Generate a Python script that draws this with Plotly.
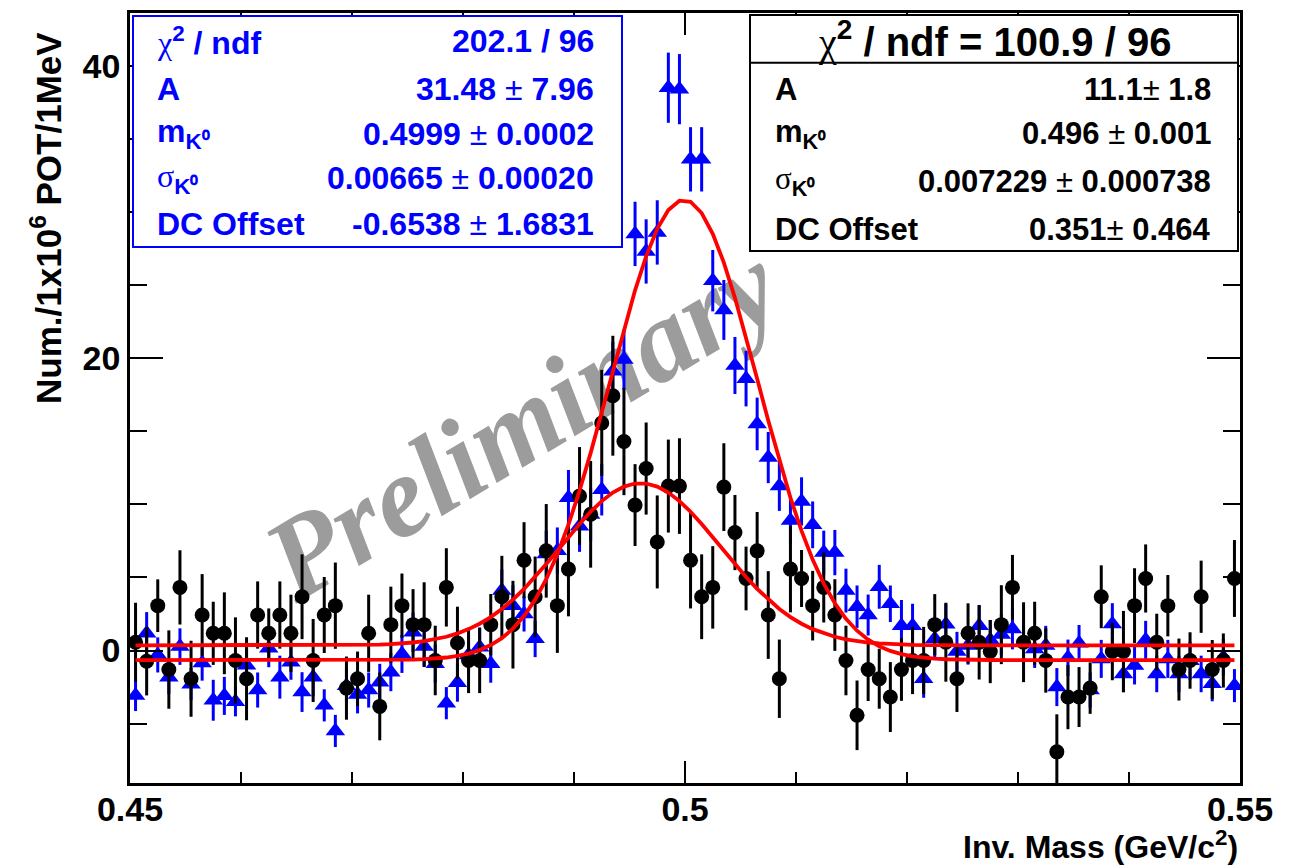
import numpy as np
import plotly.graph_objects as go

# ---- invariant-mass spectra: 100 bins of 1 MeV between 0.45 and 0.55 GeV/c^2 ----
mass_lo, bin_width, n_bins = 0.45, 0.001, 100
mass_centers = mass_lo + bin_width * (np.arange(n_bins) + 0.5)

# blue sample (triangles)
blue_counts = [
    -3.07, 1.18, -0.30, -1.82, 0.27, -2.30, -0.86, -3.40, -3.10, -3.50,
    -1.00, -2.70, 0.16, -1.82, -0.80, -2.84, -1.82, -3.75, -5.50, -2.40,
    -3.00, -2.70, -2.16, -1.48, -0.23, 1.25, 0.27, -0.91, -3.60, -2.20,
    -0.30, 0.23, -0.90, 4.10, 3.07, 2.50, 0.80, 6.60, 6.82, 10.45,
    8.50, 9.30, 11.00, 19.10, 19.90, 28.50, 27.30, 28.60, 38.50, 38.40,
    33.60, 33.60, 25.30, 23.30, 19.50, 18.60, 15.50, 13.20, 11.25, 8.90,
    10.20, 8.60, 6.70, 6.70, 4.10, 3.00, 2.43, 4.36, 3.20, 1.70,
    1.70, -1.93, 0.80, 1.80, -0.07, 0.34, 1.70, 0.73, 1.10, 1.48,
    0.57, 0.11, 0.34, -2.50, -0.50, 0.50, -2.70, -0.57, 1.82, -1.60,
    -1.02, 0.73, -1.60, -0.57, -1.60, -0.70, -1.60, -2.27, -0.45, -2.40,
]
blue_errors = [
    1.07, 1.45, 1.20, 1.15, 1.25, 1.10, 1.20, 1.40, 1.30, 1.00,
    1.20, 1.20, 1.30, 1.47, 1.20, 1.36, 1.30, 1.10, 1.10, 1.20,
    1.30, 1.20, 1.25, 1.30, 1.30, 1.35, 1.35, 1.30, 1.10, 1.30,
    1.35, 1.35, 1.30, 1.45, 1.40, 1.20, 1.25, 1.60, 1.60, 1.90,
    1.75, 1.80, 1.76, 2.00, 2.05, 2.20, 2.20, 2.20, 2.40, 2.40,
    2.20, 2.20, 2.10, 2.05, 1.95, 1.90, 1.80, 1.75, 1.70, 1.60,
    1.65, 1.60, 1.50, 1.55, 1.50, 1.45, 1.40, 1.50, 1.25, 1.76,
    1.50, 1.30, 1.40, 1.40, 1.35, 1.30, 1.40, 1.36, 1.40, 1.40,
    1.35, 1.30, 1.35, 1.30, 1.25, 1.25, 1.20, 1.30, 1.42, 1.25,
    1.30, 1.30, 1.25, 1.30, 1.25, 1.30, 1.25, 1.20, 1.25, 1.13,
]

# black sample (circles)
black_counts = [
    0.57, -0.73, 3.07, -1.30, 4.32, -1.93, 2.43, 1.18, 1.18, -0.68,
    -1.93, 2.43, 1.18, 2.43, 1.18, 3.68, -0.68, 2.43, 3.07, -2.57,
    -1.93, 1.18, -3.82, 1.77, 3.07, 1.77, 1.77, -0.68, 4.32, 0.52,
    -0.68, -0.68, 1.77, 3.68, 1.77, 6.18, 3.68, 6.82, 3.07, 5.57,
    10.57, 9.32, 15.57, 17.43, 14.30, 9.95, 12.45, 7.43, 11.25, 11.25,
    6.18, 3.68, 4.32, 11.18, 8.07, 4.93, 6.82, 2.43, -1.93, 5.57,
    4.93, 3.07, 4.32, 2.43, -0.68, -4.43, -1.30, -1.93, -3.18, -1.30,
    -0.68, -0.68, 1.77, 0.57, -1.93, 1.18, 0.57, -0.07, 1.77, 4.32,
    0.57, 1.18, -0.68, -6.93, -3.18, -3.18, -2.57, 3.68, -0.07, -0.07,
    3.07, 4.93, 0.57, 3.07, -1.30, -0.68, 3.68, -1.30, -0.68, 4.93,
]
black_errors = [
    2.70, 2.34, 1.80, 2.68, 2.54, 2.60, 2.80, 2.16, 2.80, 2.95,
    2.84, 2.30, 1.70, 2.30, 2.64, 2.90, 2.84, 2.60, 2.95, 2.16,
    1.86, 2.64, 2.32, 2.60, 2.20, 2.43, 2.90, 2.38, 2.68, 2.48,
    2.23, 2.23, 2.10, 2.80, 3.00, 2.60, 2.75, 3.20, 3.23, 3.23,
    3.35, 3.65, 3.63, 4.10, 3.67, 2.80, 3.15, 3.18, 3.18, 3.27,
    3.30, 2.90, 2.82, 3.00, 2.57, 2.18, 2.66, 3.00, 2.68, 2.96,
    1.95, 2.38, 2.40, 2.45, 2.38, 2.38, 2.15, 2.05, 2.39, 2.14,
    2.30, 2.30, 2.09, 2.70, 2.27, 2.05, 2.55, 2.16, 2.70, 2.22,
    2.73, 2.16, 2.20, 2.57, 2.20, 2.05, 1.76, 2.15, 1.96, 2.78,
    2.56, 2.33, 1.95, 2.10, 2.12, 1.93, 2.47, 2.02, 1.85, 2.63,
]

# Gaussian + constant fit results
blue_fit = {"A": 31.48, "m": 0.4999, "sigma": 0.00665, "offset": -0.6538}
black_fit = {"A": 11.1, "m": 0.496, "sigma": 0.007229, "offset": 0.351}

x_ticks = [0.45, 0.5, 0.55]
y_ticks = [0, 20, 40]


def gauss_const(x, p):
    return p["A"] * np.exp(-0.5 * ((x - p["m"]) / p["sigma"]) ** 2) + p["offset"]


fit_x = np.linspace(mass_centers[0], mass_centers[-1], 100)

# plot-area geometry (pixels) used to place the boxes and labels
W, H = 1297, 867
ML, MR, MT, MB = 130, 57, 10, 84
PW, PH = W - ML - MR, H - MT - MB


def px(xpix):
    return (xpix - ML) / PW


def py(ypix):
    return (H - MB - ypix) / PH


FONT = "Liberation Sans"
SERIF = "Liberation Serif"
BLUE = "#0000ff"

fig = go.Figure()

fig.add_trace(go.Scatter(
    x=mass_centers, y=blue_counts, mode="markers",
    marker=dict(symbol="triangle-up", size=17, color=BLUE),
    error_y=dict(type="data", array=blue_errors, color=BLUE, thickness=3, width=0),
    showlegend=False,
))
fig.add_trace(go.Scatter(
    x=mass_centers, y=black_counts, mode="markers",
    marker=dict(symbol="circle", size=15, color="black"),
    error_y=dict(type="data", array=black_errors, color="black", thickness=3, width=0),
    showlegend=False,
))
for p in (blue_fit, black_fit):
    fig.add_trace(go.Scatter(
        x=fit_x, y=gauss_const(fit_x, p), mode="lines",
        line=dict(color="#ff0000", width=3.8), showlegend=False,
    ))

shapes = []
annotations = []

# watermark, drawn beneath the data
shapes.append(dict(
    type="rect", xref="paper", yref="paper", layer="below",
    x0=px(415), x1=px(615), y0=py(460), y1=py(360),
    line=dict(width=0), fillcolor="rgba(0,0,0,0)",
    label=dict(text="<b><i>Preliminary</i></b>", textangle=-31,
               textposition="middle center",
               font=dict(family=SERIF, size=116, color="#9c9c9c")),
))

# ---- blue fit box ----
shapes.append(dict(type="rect", xref="paper", yref="paper",
                   x0=px(133), x1=px(622), y0=py(245), y1=py(13),
                   line=dict(color=BLUE, width=2), fillcolor="white", layer="above"))


def sym(ch):
    return f"<span style='font-family:{SERIF};font-weight:normal'>{ch}</span>"


def pm():
    return "<span style='font-weight:normal'>±</span>"


blue_rows = [
    (38, f"{sym('χ')}<b><sup>2</sup> / ndf</b>", "<b>202.1 / 96</b>"),
    (86, "<b>A</b>", f"<b>31.48 </b>{pm()}<b> 7.96</b>"),
    (131, "<b>m<sub>K⁰</sub></b>", f"<b>0.4999 </b>{pm()}<b> 0.0002</b>"),
    (176, f"{sym('σ')}<b><sub>K⁰</sub></b>", f"<b>0.00665 </b>{pm()}<b> 0.00020</b>"),
    (222, "<b>DC Offset</b>", f"<b>-0.6538 </b>{pm()}<b> 1.6831</b>"),
]
for ypix, lab, val in blue_rows:
    annotations.append(dict(xref="paper", yref="paper", x=px(155), y=py(ypix),
                            xanchor="left", yanchor="middle", text=lab, showarrow=False,
                            font=dict(family=FONT, size=32, color=BLUE)))
    annotations.append(dict(xref="paper", yref="paper", x=px(596), y=py(ypix),
                            xanchor="right", yanchor="middle", text=val, showarrow=False,
                            font=dict(family=FONT, size=32, color=BLUE)))

# ---- black fit box ----
shapes.append(dict(type="rect", xref="paper", yref="paper",
                   x0=px(750), x1=px(1238), y0=py(249), y1=py(12),
                   line=dict(color="black", width=2), fillcolor="white", layer="above"))
shapes.append(dict(type="line", xref="paper", yref="paper",
                   x0=px(750), x1=px(1238), y0=py(60), y1=py(60),
                   line=dict(color="black", width=2), layer="above"))
annotations.append(dict(xref="paper", yref="paper", x=px(994), y=py(37),
                        xanchor="center", yanchor="middle",
                        text=f"{sym('χ')}<b><sup>2</sup> / ndf = 100.9 / 96</b>",
                        showarrow=False, font=dict(family=FONT, size=40, color="black")))
black_rows = [
    (87, "<b>A</b>", f"<b>11.1</b>{pm()}<b> 1.8</b>"),
    (131, "<b>m<sub>K⁰</sub></b>", f"<b>0.496 </b>{pm()}<b> 0.001</b>"),
    (179, f"{sym('σ')}<b><sub>K⁰</sub></b>", f"<b>0.007229 </b>{pm()}<b> 0.000738</b>"),
    (227, "<b>DC Offset</b>", f"<b>0.351</b>{pm()}<b> 0.464</b>"),
]
for ypix, lab, val in black_rows:
    annotations.append(dict(xref="paper", yref="paper", x=px(773), y=py(ypix),
                            xanchor="left", yanchor="middle", text=lab, showarrow=False,
                            font=dict(family=FONT, size=31, color="black")))
    annotations.append(dict(xref="paper", yref="paper", x=px(1213), y=py(ypix),
                            xanchor="right", yanchor="middle", text=val, showarrow=False,
                            font=dict(family=FONT, size=31, color="black")))

# axis titles
annotations.append(dict(xref="paper", yref="paper", x=px(1240), y=py(845),
                        xanchor="right", yanchor="middle",
                        text="<b>Inv. Mass (GeV/c<sup>2</sup>)</b>", showarrow=False,
                        font=dict(family=FONT, size=32, color="black")))
annotations.append(dict(xref="paper", yref="paper", x=px(46), y=py(27),
                        xanchor="center", yanchor="top", textangle=-90,
                        text="<b>Num./1x10<sup>6</sup> POT/1MeV</b>", showarrow=False,
                        font=dict(family=FONT, size=35, color="black")))

axis_common = dict(
    showline=True, linecolor="black", linewidth=2.5, mirror="allticks",
    ticks="inside", tickcolor="black", tickwidth=2,
    showgrid=False, zeroline=False,
    tickfont=dict(family=FONT, size=34, color="black", weight="bold"),
)

fig.update_layout(
    width=W, height=H,
    margin=dict(l=ML, r=MR, t=MT, b=MB),
    paper_bgcolor="white", plot_bgcolor="white",
    shapes=shapes, annotations=annotations, showlegend=False,
    xaxis=dict(range=[0.45, 0.55], tickvals=x_ticks, ticktext=["0.45", "0.5", "0.55"],
               ticklen=22, ticklabelstandoff=-6,
               minor=dict(dtick=0.01, tick0=0.45, ticklen=11, tickwidth=2,
                          ticks="inside", tickcolor="black", showgrid=False),
               **axis_common),
    yaxis=dict(range=[-9.06, 43.61], tickvals=y_ticks, ticklen=33,
               minor=dict(dtick=5, tick0=0, ticklen=17, tickwidth=2,
                          ticks="inside", tickcolor="black", showgrid=False),
               **axis_common),
)

fig.write_html("out.html")
